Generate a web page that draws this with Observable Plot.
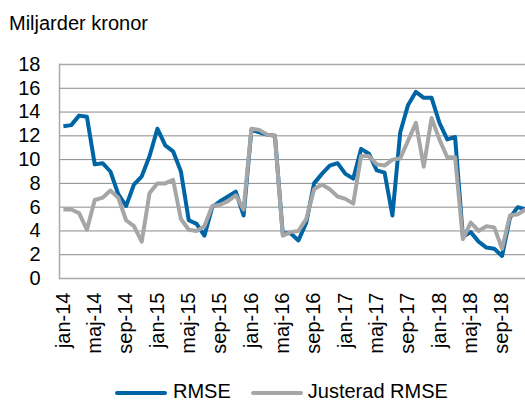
<!DOCTYPE html>
<html><head><meta charset="utf-8">
<script src="https://cdn.jsdelivr.net/npm/d3@7"></script>
<script src="https://cdn.jsdelivr.net/npm/@observablehq/plot@0.6"></script>
<style>
body{margin:0;width:525px;height:403px;overflow:hidden;background:#fff;font-family:"Liberation Sans",Arial,sans-serif;color:#000;position:relative}
#title{position:absolute;left:9px;top:11px;font-size:20px;line-height:24px;white-space:nowrap}
#chart{position:absolute;left:0;top:40px}
#legend{position:absolute;top:380px;left:115px;display:flex;align-items:center;font-size:20px;line-height:22px;white-space:nowrap}
#legend svg{display:block}
#legend span{display:inline-block;line-height:22px}
</style></head><body>
<div id="title">Miljarder kronor</div>
<div id="chart"></div>
<div id="legend"></div>
<script>
const monthNames = ["jan","feb","mar","apr","maj","jun","jul","aug","sep","okt","nov","dec"];
const years = ["14","15","16","17","18"];
const months = years.flatMap(y => monthNames.map(m => `${m}-${y}`));

const rmse = [
  12.8, 12.9, 13.7, 13.6, 9.6, 9.7, 9.0, 7.1, 6.1, 7.9, 8.6, 10.3,
  12.6, 11.2, 10.7, 9.0, 4.9, 4.6, 3.6, 6.0, 6.5, 6.9, 7.3, 5.3,
  12.5, 12.3, 12.1, 12.0, 3.8, 3.8, 3.2, 4.7, 8.0, 8.8, 9.5, 9.7,
  8.8, 8.4, 10.9, 10.5, 9.1, 8.9, 5.3, 12.3, 14.6, 15.7, 15.2, 15.2,
  13.1, 11.7, 11.9, 3.5, 3.9, 3.1, 2.6, 2.5, 1.9, 5.1, 6.0, 5.8
];
const justerad = [
  5.8, 5.8, 5.5, 4.1, 6.6, 6.8, 7.4, 6.8, 4.9, 4.4, 3.1, 7.2,
  8.0, 8.0, 8.3, 5.0, 4.1, 4.0, 4.4, 6.1, 6.2, 6.5, 7.0, 5.8,
  12.6, 12.5, 12.1, 12.0, 3.6, 3.9, 4.0, 5.0, 7.5, 7.9, 7.5, 6.9,
  6.7, 6.3, 10.3, 10.3, 9.6, 9.5, 10.0, 10.1, 11.6, 13.1, 9.4, 13.5,
  11.7, 10.2, 10.2, 3.3, 4.7, 4.0, 4.4, 4.3, 2.5, 5.3, 5.4, 5.8
];
const yTicks = [0, 2, 4, 6, 8, 10, 12, 14, 16, 18];
const xTicks = ["jan-14","maj-14","sep-14","jan-15","maj-15","sep-15","jan-16","maj-16","sep-16","jan-17","maj-17","sep-17","jan-18","maj-18","sep-18"];
const seriesNames = ["RMSE", "Justerad RMSE"];
const seriesColors = ["#0065a5", "#a6a6a6"];

const data = [
  ...rmse.map((v, i) => ({month: months[i], value: v, series: seriesNames[0]})),
  ...justerad.map((v, i) => ({month: months[i], value: v, series: seriesNames[1]}))
];

const plot = Plot.plot({
  width: 525, height: 325,
  marginTop: 24, marginBottom: 87, marginLeft: 59, marginRight: 0,
  style: {fontSize: "20px", fontFamily: '"Liberation Sans", Arial, sans-serif', color: "#000", background: "transparent", overflow: "hidden"},
  x: {type: "point", domain: months, padding: 0.5, range: [59, 529]},
  y: {domain: [0, 18]},
  color: {domain: seriesNames, range: seriesColors},
  marks: [
    Plot.ruleY(yTicks.filter(d => d > 0 && d < 18), {stroke: "#8a8a8a", strokeWidth: 1}),
    Plot.ruleY([0, 18], {stroke: "#a9a9a9", strokeWidth: 1.5}),
    Plot.frame({anchor: "left", stroke: "#a9a9a9", strokeWidth: 1.5}),
    Plot.axisY({ticks: yTicks, tickSize: 0, tickPadding: 19, label: null}),
    Plot.axisX({ticks: xTicks, tickSize: 0, tickPadding: 14, tickRotate: -90, label: null}),
    Plot.line(data, {x: "month", y: "value", z: "series", stroke: "series", strokeWidth: 4, strokeLinejoin: "round", strokeLinecap: "butt"})
  ]
});
document.getElementById("chart").appendChild(plot);

const legend = document.getElementById("legend");
seriesNames.forEach((name, k) => {
  const ns = "http://www.w3.org/2000/svg";
  const sw = document.createElementNS(ns, "svg");
  sw.setAttribute("width", 52); sw.setAttribute("height", 22);
  const ln = document.createElementNS(ns, "line");
  ln.setAttribute("x1", 2); ln.setAttribute("x2", 50);
  ln.setAttribute("y1", 13); ln.setAttribute("y2", 13);
  ln.setAttribute("stroke", seriesColors[k]); ln.setAttribute("stroke-width", 4);
  ln.setAttribute("stroke-linecap", "round");
  sw.appendChild(ln);
  legend.appendChild(sw);
  const t = document.createElement("span");
  t.textContent = name;
  t.style.marginLeft = k === 0 ? "6px" : "5px";
  t.style.marginRight = k === 0 ? "20px" : "0";
  legend.appendChild(t);
});
</script>
</body></html>
